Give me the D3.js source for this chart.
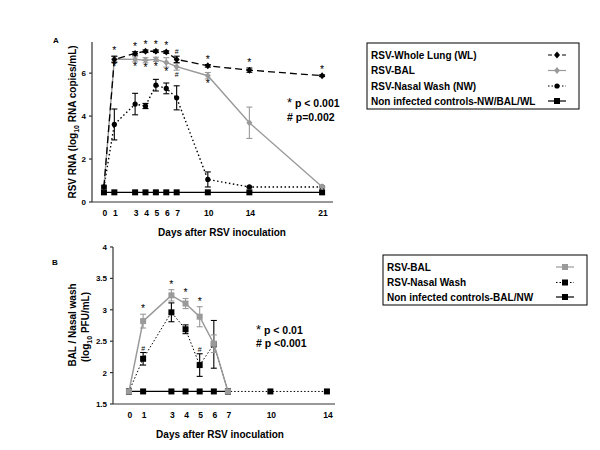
<!DOCTYPE html>
<html>
<head>
<meta charset="utf-8">
<script src="https://cdnjs.cloudflare.com/ajax/libs/d3/7.8.5/d3.min.js"></script>
<style>
  body { margin: 0; background: #fff; }
  svg text { font-family: "Liberation Sans", Arial, sans-serif; font-weight: bold; fill: #000; }
  svg .sig { font-weight: normal; opacity: 0.99; }
</style>
</head>
<body>
<svg id="chart" width="600" height="450"></svg>
<script>
// ---- panel A data (log10 RNA copies/mL) ----
var daysA = [0, 1, 3, 4, 5, 6, 7, 10, 14, 21];
var wlMean = [0.7, 6.64, 6.92, 7.02, 7.02, 6.98, 6.64, 6.34, 6.14, 5.88];
var wlErr = [0.05, 0.15, 0.08, 0.06, 0.06, 0.06, 0.15, 0.06, 0.1, 0.04];
var balMean = [0.7, 6.66, 6.64, 6.6, 6.64, 6.5, 6.3, 5.88, 3.69, 0.71];
var balErr = [0.05, 0.12, 0.12, 0.12, 0.1, 0.22, 0.16, 0.15, 0.73, 0.03];
var nwMean = [0.7, 3.61, 4.56, 4.47, 5.44, 5.29, 4.85, 1.05, 0.7, 0.7];
var nwErr = [0.08, 0.72, 0.5, 0.12, 0.27, 0.25, 0.56, 0.35, 0.03, 0.03];
var ctlA = [0.45, 0.45, 0.45, 0.45, 0.45, 0.45, 0.45, 0.45, 0.45, 0.45];
var wlSig = ["", "*", "*", "*", "*", "*", "#", "*", "*", "*"];
var balSig = ["", "*", "*", "*", "*", "*", "#", "*", "", ""];
var yTicksA = [0, 2, 4, 6];

// ---- panel B data (log10 PFU/mL) ----
var daysB = [0, 1, 3, 4, 5, 6, 7, 10, 14];
var balB = [1.7, 2.82, 3.23, 3.1, 2.89, 2.46, 1.7];
var balBErr = [0, 0.11, 0.09, 0.08, 0.16, 0.14, 0];
var nwB = [1.7, 2.22, 2.96, 2.69, 2.12, 2.45, 1.7, 1.7, 1.7];
var nwBErr = [0, 0.1, 0.15, 0.07, 0.18, 0.38, 0, 0, 0];
var ctlB = [1.7, 1.7, 1.7, 1.7, 1.7, 1.7, 1.7];
var balBSig = ["", "*", "*", "*", "*", "", ""];
var nwBSig = ["", "#", "", "", "#", "", "", "", ""];
var yTicksB = [1.5, 2, 2.5, 3, 3.5, 4];

var svg = d3.select("#chart");
var GRAY = "#9a9a9a";

function zip(days, vals, errs) {
  return vals.map(function (v, i) { return { d: days[i], v: v, e: errs ? errs[i] : 0 }; });
}

function drawSeries(g, x, y, pts, opt) {
  var line = d3.line().x(function (p) { return x(p.d); }).y(function (p) { return y(p.v); });
  g.append("path").datum(pts).attr("d", line)
    .attr("fill", "none").attr("stroke", opt.color)
    .attr("stroke-width", opt.width || 1.2)
    .attr("stroke-dasharray", opt.dash || null);
  // error bars
  var eb = g.append("g").attr("stroke", opt.color).attr("stroke-width", 1.1);
  pts.forEach(function (p) {
    if (!p.e) return;
    var cx = x(p.d), y0 = y(p.v - p.e), y1 = y(p.v + p.e);
    eb.append("line").attr("x1", cx).attr("x2", cx).attr("y1", y0).attr("y2", y1);
    eb.append("line").attr("x1", cx - 3).attr("x2", cx + 3).attr("y1", y0).attr("y2", y0);
    eb.append("line").attr("x1", cx - 3).attr("x2", cx + 3).attr("y1", y1).attr("y2", y1);
  });
  pts.forEach(function (p) { marker(g, x(p.d), y(p.v), opt.shape, opt.color); });
}

function marker(g, cx, cy, shape, color) {
  if (shape === "circle") {
    g.append("circle").attr("cx", cx).attr("cy", cy).attr("r", 2.6).attr("fill", color);
  } else if (shape === "square") {
    g.append("rect").attr("x", cx - 3).attr("y", cy - 3).attr("width", 6).attr("height", 6).attr("fill", color);
  } else {
    g.append("path").attr("d", "M" + cx + "," + (cy - 3.5) + "l3,3.5l-3,3.5l-3,-3.5z").attr("fill", color);
  }
}

function sigMarks(g, x, y, pts, sig, above, off) {
  pts.forEach(function (p, i) {
    if (!sig[i]) return;
    var isStar = sig[i] === "*";
    var yy = above ? y(p.v + p.e) - off : y(p.v - p.e) + off + (isStar ? 7 : 6);
    g.append("text").attr("class", "sig").attr("x", x(p.d)).attr("y", yy)
      .attr("text-anchor", "middle")
      .style("font-size", isStar ? "10.5px" : "7px")
      .text(sig[i]);
  });
}

function axes(g, x, y, xTicks, yTicks, yFmt, xr, yr) {
  var ax = g.append("g").attr("stroke", "#333").attr("stroke-width", 1.2);
  ax.append("line").attr("x1", xr[0]).attr("x2", xr[0]).attr("y1", yr[0]).attr("y2", yr[1]);
  ax.append("line").attr("x1", xr[0]).attr("x2", xr[1]).attr("y1", yr[0]).attr("y2", yr[0]);
  yTicks.forEach(function (t) {
    ax.append("line").attr("x1", xr[0] - 3).attr("x2", xr[0]).attr("y1", y(t)).attr("y2", y(t));
    g.append("text").attr("x", xr[0] - 6).attr("y", y(t) + 3)
      .attr("text-anchor", "end").style("font-size", "8px").text(yFmt(t));
  });
  xTicks.forEach(function (t) {
    g.append("text").attr("x", x(t) + 1).attr("y", yr[0] + 14)
      .attr("text-anchor", "middle").style("font-size", "8.5px").text(t);
  });
}

function legend(g, x0, y0, w, h, rows) {
  g.append("rect").attr("x", x0).attr("y", y0).attr("width", w).attr("height", h)
    .attr("fill", "#fff").attr("stroke", "#000").attr("stroke-width", 1);
  rows.forEach(function (r) {
    g.append("text").attr("x", x0 + 4).attr("y", r.y + 3.5).style("font-size", "10px").text(r.label);
    var sx = x0 + w - 22;
    g.append("line").attr("x1", sx - 9).attr("x2", sx + 9).attr("y1", r.y).attr("y2", r.y)
      .attr("stroke", r.color).attr("stroke-width", 1.2).attr("stroke-dasharray", r.dash || null);
    marker(g, sx, r.y, r.shape, r.color);
  });
}

// ================= Panel A =================
var gA = svg.append("g");
var xA = d3.scaleLinear().domain([-1.15, 22.05]).range([92, 333]);
var yA = d3.scaleLinear().domain([0, 7.45]).range([202, 42]);
axes(gA, xA, yA, daysA, yTicksA, d3.format("d"), [92, 333], [202, 42]);

var ctlPtsA = zip(daysA, ctlA);
var nwPts = zip(daysA, nwMean, nwErr);
var balPts = zip(daysA, balMean, balErr);
var wlPts = zip(daysA, wlMean, wlErr);
drawSeries(gA, xA, yA, ctlPtsA, { color: "#000", shape: "square", width: 1.3 });
drawSeries(gA, xA, yA, nwPts, { color: "#000", shape: "circle", dash: "1.5,2.5", width: 1.4 });
drawSeries(gA, xA, yA, balPts, { color: GRAY, shape: "diamond", width: 1.4 });
drawSeries(gA, xA, yA, wlPts, { color: "#000", shape: "diamond", dash: "7,4", width: 1.3 });
sigMarks(gA, xA, yA, wlPts, wlSig, true, 2);
sigMarks(gA, xA, yA, balPts, balSig, false, 1);

gA.append("text").attr("x", 53).attr("y", 43).style("font-size", "8px").text("A");
gA.append("text").attr("x", 287).attr("y", 107).style("font-size", "10.5px")
  .html('<tspan class="sig" style="font-size:13px">*</tspan> p &lt; 0.001');
gA.append("text").attr("x", 287).attr("y", 121).style("font-size", "10.5px").text("# p=0.002");

var ylA = gA.append("text").attr("transform", "translate(76,122) rotate(-90)")
  .attr("text-anchor", "middle").style("font-size", "10px");
ylA.append("tspan").text("RSV RNA (log");
ylA.append("tspan").attr("dy", 2.5).style("font-size", "7px").text("10");
ylA.append("tspan").attr("dy", -2.5).text(" RNA copies/mL)");

gA.append("text").attr("x", 222).attr("y", 236).attr("text-anchor", "middle")
  .style("font-size", "10px").text("Days after RSV inoculation");

legend(gA, 367, 43, 212, 66, [
  { label: "RSV-Whole Lung (WL)", y: 55, color: "#000", shape: "diamond", dash: "4,3" },
  { label: "RSV-BAL", y: 70.5, color: GRAY, shape: "diamond" },
  { label: "RSV-Nasal Wash (NW)", y: 86, color: "#000", shape: "circle", dash: "1.5,2" },
  { label: "Non infected controls-NW/BAL/WL", y: 101, color: "#000", shape: "square" }
]);

// ================= Panel B =================
var gB = svg.append("g");
var xB = d3.scaleLinear().domain([-1.13, 14.57]).range([113, 335]);
var yB = d3.scaleLinear().domain([1.5, 4]).range([404, 247]);
axes(gB, xB, yB, daysB, yTicksB, function (t) { return d3.format("")(t); }, [113, 335], [404, 247]);

var ctlPtsB = zip(daysB, ctlB);
var nwPtsB = zip(daysB, nwB, nwBErr);
var balPtsB = zip(daysB, balB, balBErr);
drawSeries(gB, xB, yB, nwPtsB, { color: "#000", shape: "square", dash: "1.5,2", width: 1 });
drawSeries(gB, xB, yB, ctlPtsB, { color: "#000", shape: "square", width: 1.3 });
drawSeries(gB, xB, yB, balPtsB, { color: GRAY, shape: "square", width: 1.5 });
sigMarks(gB, xB, yB, balPtsB, balBSig, true, 2);
sigMarks(gB, xB, yB, nwPtsB, nwBSig, true, 2);

gB.append("text").attr("x", 52).attr("y", 265).style("font-size", "8px").text("B");
gB.append("text").attr("x", 256).attr("y", 334).style("font-size", "10.5px")
  .html('<tspan class="sig" style="font-size:13px">*</tspan> p &lt; 0.01');
gB.append("text").attr("x", 256).attr("y", 347).style("font-size", "10.5px").text("# p <0.001");

gB.append("text").attr("transform", "translate(76,325) rotate(-90)")
  .attr("text-anchor", "middle").style("font-size", "10px").text("BAL / Nasal wash");
var ylB = gB.append("text").attr("transform", "translate(89,327) rotate(-90)")
  .attr("text-anchor", "middle").style("font-size", "10px");
ylB.append("tspan").text("(log");
ylB.append("tspan").attr("dy", 2.5).style("font-size", "7px").text("10");
ylB.append("tspan").attr("dy", -2.5).text("  PFU/mL)");

gB.append("text").attr("x", 220).attr("y", 438).attr("text-anchor", "middle")
  .style("font-size", "10px").text("Days after RSV inoculation");

legend(gB, 383, 255, 204, 50, [
  { label: "RSV-BAL", y: 267, color: GRAY, shape: "square" },
  { label: "RSV-Nasal Wash", y: 282.5, color: "#000", shape: "square", dash: "1.5,2" },
  { label: "Non infected controls-BAL/NW", y: 297, color: "#000", shape: "square" }
]);
</script>
</body>
</html>
